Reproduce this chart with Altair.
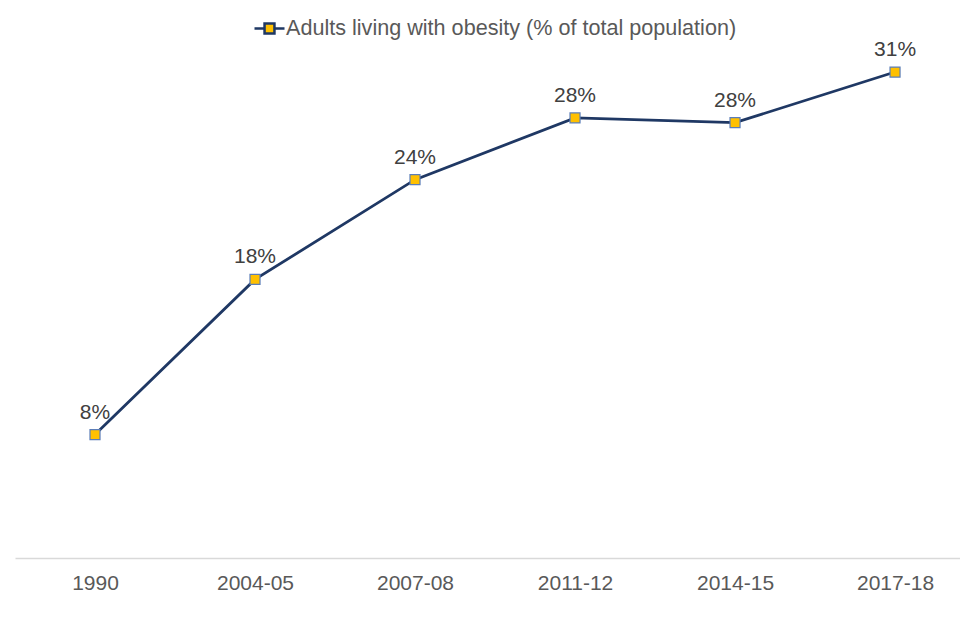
import altair as alt
import pandas as pd

periods = ["1990", "2004-05", "2007-08", "2011-12", "2014-15", "2017-18"]
obesity = [7.8, 17.6, 23.9, 27.8, 27.5, 30.7]
series_name = "Adults living with obesity (% of total population)"

df = pd.DataFrame({
    "idx": list(range(len(periods))),
    "period": periods,
    "value": obesity,
    "series": [series_name] * len(periods),
})

label_expr = "[" + ",".join(f"'{p}'" for p in periods) + "][datum.value]"

font = "Liberation Sans"
navy = "#1F3864"
gold = "#FFC000"

x = alt.X(
    "idx:Q",
    scale=alt.Scale(domain=[-0.5, 5.406], nice=False, zero=False),
    axis=alt.Axis(
        values=list(range(len(periods))),
        labelExpr=label_expr,
        title=None,
        grid=False,
        ticks=False,
        domainColor="#D9D9D9",
        domainWidth=1.5,
        labelFont=font,
        labelFontSize=21,
        labelColor="#595959",
        labelPadding=14,
    ),
)
y = alt.Y("value:Q", scale=alt.Scale(domain=[0, 31.46], nice=False), axis=None)

line = alt.Chart(df).mark_line(strokeWidth=2.8).encode(
    x=x,
    y=y,
    color=alt.Color(
        "series:N",
        scale=alt.Scale(range=[navy]),
        legend=alt.Legend(
            title=None,
            orient="none",
            legendX=238,
            legendY=-48,
            symbolType="M-1,0H-0.33M0.33,0H1M-0.33,-0.33H0.33V0.33H-0.33Z",
            symbolSize=900,
            symbolFillColor=gold,
            symbolStrokeColor=navy,
            symbolStrokeWidth=2.5,
            labelFont=font,
            labelFontSize=21.6,
            labelColor="#595959",
            labelOffset=0,
            labelLimit=700,
        ),
    ),
)

points = alt.Chart(df).mark_point(
    shape="square", filled=True, fill=gold, stroke="#5B7DB8", strokeWidth=1.2, size=100, opacity=1
).encode(x=x, y=y)

labels = alt.Chart(df).transform_calculate(
    lbl="format(datum.value, '.0f') + '%'"
).mark_text(
    font=font, fontSize=21, color="#404040", dy=-16, baseline="alphabetic", align="center"
).encode(x=x, y=y, text="lbl:N")

chart = alt.layer(line, points, labels).properties(
    width=945,
    height=498,
    autosize=alt.AutoSizeParams(type="none"),
    padding={"left": 15, "top": 60, "right": 0, "bottom": 74},
    background="white",
).configure_view(stroke=None)

chart.save("out.html", embed_options={"renderer": "svg", "actions": False})
